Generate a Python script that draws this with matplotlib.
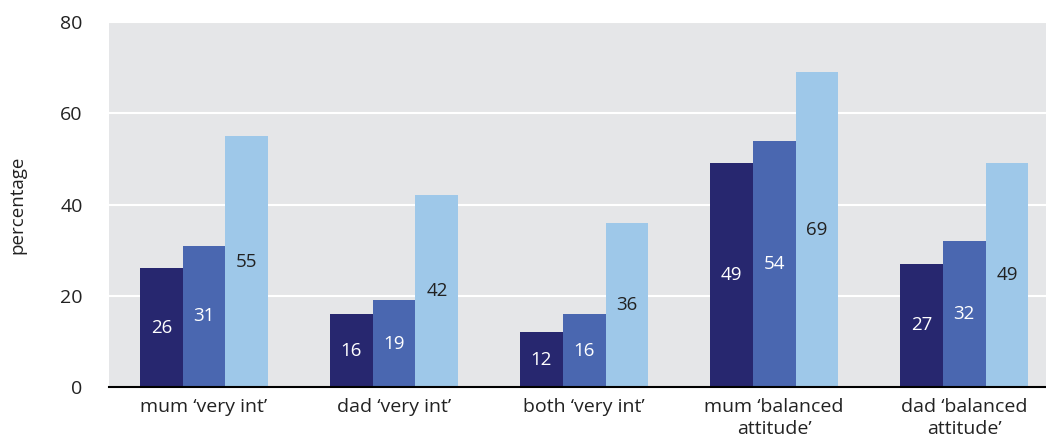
import numpy as np
import matplotlib.pyplot as plt

categories = ["mum \u2018very int\u2019", "dad \u2018very int\u2019", "both \u2018very int\u2019",
              "mum \u2018balanced\nattitude\u2019", "dad \u2018balanced\nattitude\u2019"]
series_a = [26, 16, 12, 49, 27]
series_b = [31, 19, 16, 54, 32]
series_c = [55, 42, 36, 69, 49]

colors = ["#27276f", "#4a67b0", "#9ec8e9"]
text_colors = ["white", "white", "#222222"]

plt.rcParams['font.family'] = ['Open Sans', 'DejaVu Sans']

fig = plt.figure(figsize=(10.46, 4.41), dpi=100)
ax = fig.add_axes([109 / 1046, 1 - 387 / 441, (1046 - 109) / 1046, 365 / 441])
ax.set_facecolor("#e5e6e8")

x = np.arange(len(categories))
w = 0.225
for i, (vals, c, tc) in enumerate(zip([series_a, series_b, series_c], colors, text_colors)):
    pos = x + (i - 1) * w
    ax.bar(pos, vals, width=w, color=c, zorder=3)
    for p, v in zip(pos, vals):
        ax.text(p, v / 2, str(v), ha="center", va="center", color=tc,
                fontsize=13.5, fontweight="medium", zorder=4)

ax.set_xlim(-0.5, 4.43)
ax.set_ylim(0, 80)
ax.set_yticks([0, 20, 40, 60, 80])
ax.yaxis.grid(True, color="white", linewidth=1.5, zorder=1)
ax.set_axisbelow(True)
for s in ["top", "right", "left"]:
    ax.spines[s].set_visible(False)
ax.spines["bottom"].set_color("black")
ax.spines["bottom"].set_linewidth(1.5)
ax.spines["bottom"].set_zorder(5)
ax.tick_params(axis="both", length=0, labelsize=14, colors="#222222")
ax.tick_params(axis="y", pad=19)
ax.tick_params(axis="x", pad=8)
ax.set_xticks(x)
ax.set_xticklabels(categories, linespacing=1.25)
ax.set_ylabel("percentage", fontsize=13.5, color="#222222", labelpad=24)

fig.savefig("out.png", dpi=100)
